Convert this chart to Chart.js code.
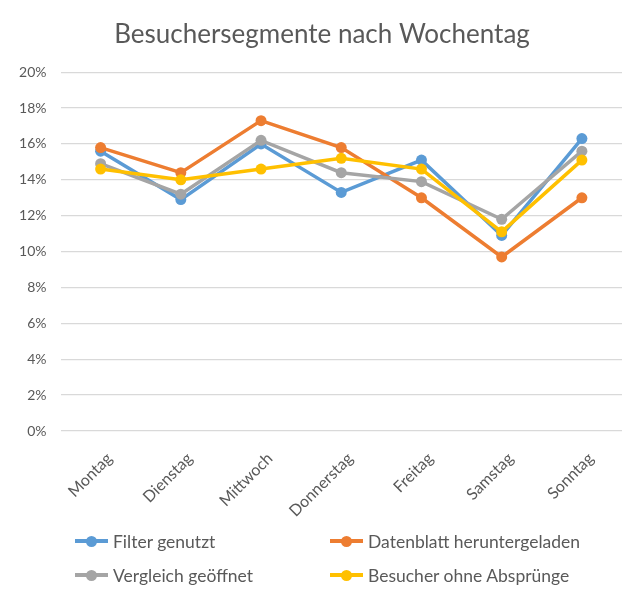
<!DOCTYPE html>
<html>
<head>
<meta charset="utf-8">
<script src="https://cdn.jsdelivr.net/npm/chart.js@4/dist/chart.umd.min.js"></script>
<style>
  html, body { margin: 0; padding: 0; background: #fff; }
  #wrap { position: relative; width: 644px; height: 601px; }
  #legend { position: absolute; left: 0; top: 0; width: 644px; height: 601px; pointer-events: none;
            font-family: Lato, "Liberation Sans", sans-serif; font-size: 17.5px; color: #595959; }
  .item { position: absolute; height: 20px; display: flex; align-items: center; }
  .mark { position: relative; width: 33px; height: 20px; margin-right: 5px; }
  .mark .ln { position: absolute; left: 0; right: 0; top: 8px; height: 4px; }
  .mark .dt { position: absolute; left: 11px; top: 5px; width: 11px; height: 11px; border-radius: 50%; }
</style>
</head>
<body>
<div id="wrap">
  <canvas id="chart" width="644" height="601"></canvas>
  <div id="legend"></div>
</div>
<script>
// data (percent)
const days = ["Montag", "Dienstag", "Mittwoch", "Donnerstag", "Freitag", "Samstag", "Sonntag"];
const seriesNames = ["Filter genutzt", "Datenblatt heruntergeladen", "Vergleich geöffnet", "Besucher ohne Absprünge"];
const filterGenutzt = [15.6, 12.9, 16.0, 13.3, 15.1, 10.9, 16.3];
const datenblatt = [15.8, 14.4, 17.3, 15.8, 13.0, 9.7, 13.0];
const vergleich = [14.9, 13.2, 16.2, 14.4, 13.9, 11.8, 15.6];
const ohneAbsprung = [14.6, 14.0, 14.6, 15.2, 14.6, 11.1, 15.1];
const yTickLabels = ["0%", "2%", "4%", "6%", "8%", "10%", "12%", "14%", "16%", "18%", "20%"];

const colors = ["#5B9BD5", "#ED7D31", "#A5A5A5", "#FFC000"];
const allSeries = [filterGenutzt, datenblatt, vergleich, ohneAbsprung];
const fontFam = "Lato, 'Liberation Sans', sans-serif";
const textCol = "#595959";

let datasets = allSeries.map((vals, i) => ({
    label: seriesNames[i],
    data: vals,
    borderColor: colors[i],
    backgroundColor: colors[i],
    borderWidth: 3.5,
    pointRadius: 5.5,
    pointHoverRadius: 5.5,
    pointBorderWidth: 0,
    tension: 0,
    yAxisID: "y",
    order: allSeries.length - i
}));

new Chart(document.getElementById("chart").getContext("2d"), {
    type: "line",
    data: { labels: days, datasets: datasets },
    options: {
        responsive: false,
        animation: false,
        layout: { padding: 0 },
        plugins: {
            legend: { display: false },
            tooltip: { enabled: false },
            title: {
                display: true,
                text: "Besuchersegmente nach Wochentag",
                color: textCol,
                font: { family: fontFam, size: 26, weight: "normal" },
                padding: { top: 19, bottom: 22 }
            }
        },
        scales: {
            x: {
                offset: true,
                grid: { display: false },
                border: { display: false },
                ticks: {
                    color: textCol,
                    font: { family: fontFam, size: 16 },
                    minRotation: 45,
                    maxRotation: 45,
                    padding: 10,
                    labelOffset: 9
                },
                afterFit: (scale) => { scale.height = 170; }
            },
            y: {
                min: 0,
                max: 20,
                ticks: {
                    stepSize: 2,
                    color: textCol,
                    font: { family: fontFam, size: 14 },
                    padding: 14,
                    callback: (v) => yTickLabels[Math.round(v / 2)]
                },
                grid: { color: "#D9D9D9", lineWidth: 1.3, drawTicks: false },
                border: { display: false },
                afterFit: (scale) => { scale.width = 60.5; }
            },
            // empty right axis keeps the right margin so the title stays centred on the page
            yRight: {
                position: "right",
                min: 0,
                max: 20,
                grid: { display: false },
                border: { display: false },
                ticks: { display: false },
                afterFit: (scale) => { scale.width = 22; }
            }
        }
    }
});

// legend in two columns
const legend = document.getElementById("legend");
const legendPos = [[75, 531], [330, 531], [75, 565], [330, 565]];
seriesNames.forEach((name, i) => {
    let item = document.createElement("div");
    item.className = "item";
    item.style.left = legendPos[i][0] + "px";
    item.style.top = legendPos[i][1] + "px";
    item.innerHTML = `<div class="mark"><div class="ln" style="background:${colors[i]}"></div>` +
        `<div class="dt" style="background:${colors[i]}"></div></div><span>${name}</span>`;
    legend.appendChild(item);
});
</script>
</body>
</html>
